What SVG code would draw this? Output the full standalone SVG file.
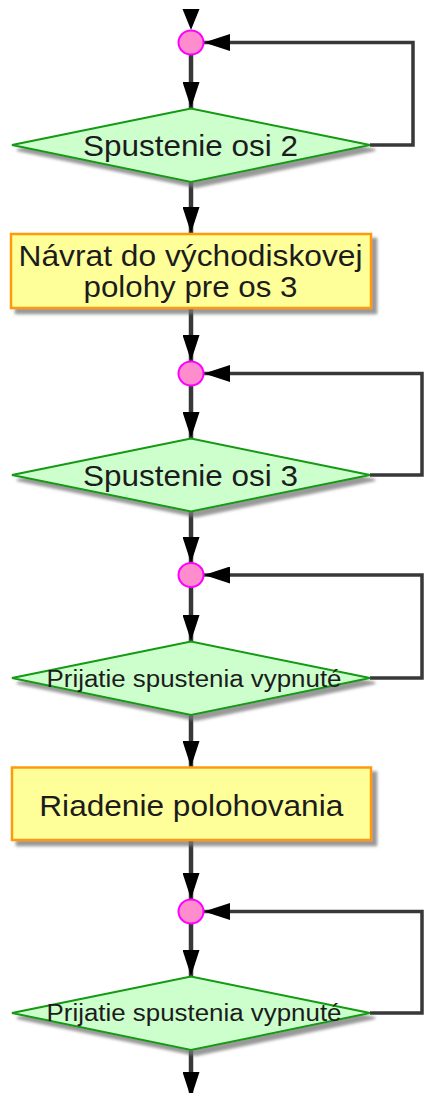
<svg xmlns="http://www.w3.org/2000/svg" width="430" height="1093" viewBox="0 0 430 1093">
  <style>
    .dec { fill: #ccffcc; stroke: #129a12; stroke-width: 2; filter: url(#shadow); }
    .act { fill: #ffff99; stroke: #ff9a0a; stroke-width: 2.5; filter: url(#shadow); }
    .mrg { fill: #ff8ccc; stroke: #ff00ff; stroke-width: 2; }
    .lbl { font-family: "Liberation Sans", Arial, sans-serif; fill: #1c1c1c; text-anchor: middle; }
    .big { font-size: 30px; }
    .small { font-size: 23px; }
    .flow { fill: none; stroke: #383838; stroke-width: 4.5; }
    .loop { fill: none; stroke: #383838; stroke-width: 3.5; }
  </style>
  <defs>
    <filter id="shadow" x="-10%" y="-20%" width="130%" height="150%">
      <feDropShadow dx="5" dy="5" stdDeviation="1.8" flood-color="#777" flood-opacity="0.75"/>
    </filter>
    <marker id="head" markerUnits="userSpaceOnUse" markerWidth="26" markerHeight="17" refX="26" refY="8.5" orient="auto">
      <path d="M0,0 L26,8.5 L0,17 Z" fill="#000"/>
    </marker>
  </defs>
  <rect width="430" height="1093" fill="#fff"/>

  <!-- connectors -->
  <g id="connectors">
    <polygon points="182.5,9 199.5,9 191,30" fill="#000"/>
    <line class="flow" x1="191" y1="54" x2="191" y2="108" marker-end="url(#head)"/>
    <polyline class="loop" points="370,145 413,145 413,42.5 204,42.5" marker-end="url(#head)"/>
    <line class="flow" x1="191" y1="182" x2="191" y2="233" marker-end="url(#head)"/>
    <line class="flow" x1="191" y1="309" x2="191" y2="361" marker-end="url(#head)"/>
    <line class="flow" x1="191" y1="385" x2="191" y2="438" marker-end="url(#head)"/>
    <polyline class="loop" points="370,475 422,475 422,373.5 204,373.5" marker-end="url(#head)"/>
    <line class="flow" x1="191" y1="512" x2="191" y2="563" marker-end="url(#head)"/>
    <line class="flow" x1="191" y1="587" x2="191" y2="641" marker-end="url(#head)"/>
    <polyline class="loop" points="370,678 422,678 422,575 204,575" marker-end="url(#head)"/>
    <line class="flow" x1="191" y1="715" x2="191" y2="767" marker-end="url(#head)"/>
    <line class="flow" x1="191" y1="841" x2="191" y2="899" marker-end="url(#head)"/>
    <line class="flow" x1="191" y1="923" x2="191" y2="976" marker-end="url(#head)"/>
    <polyline class="loop" points="370,1013 422,1013 422,911.5 204,911.5" marker-end="url(#head)"/>
    <line class="flow" x1="191" y1="1050" x2="191" y2="1098" marker-end="url(#head)"/>
  </g>

  <!-- merge point 1 and axis 2 start -->
  <g id="merge1"><ellipse class="mrg" cx="191" cy="42.5" rx="12.5" ry="12"/></g>
  <g id="start-axis2">
    <polygon class="dec" points="12,145 191,108.5 370,145 191,182"/>
    <text class="lbl big" x="190.5" y="156" textLength="215" lengthAdjust="spacingAndGlyphs">Spustenie osi 2</text>
  </g>

  <!-- homing of axis 3 -->
  <g id="home-axis3">
    <rect class="act" x="11" y="234" width="360" height="74"/>
    <text class="lbl big" x="190.5" y="265.5" textLength="344" lengthAdjust="spacingAndGlyphs">Návrat do východiskovej</text>
    <text class="lbl big" x="190.5" y="297" textLength="214" lengthAdjust="spacingAndGlyphs">polohy pre os 3</text>
  </g>

  <!-- merge point 2 and axis 3 start -->
  <g id="merge2"><ellipse class="mrg" cx="191" cy="373.5" rx="12.5" ry="12"/></g>
  <g id="start-axis3">
    <polygon class="dec" points="12,475 191,438.5 370,475 191,511.5"/>
    <text class="lbl big" x="190.5" y="486" textLength="215" lengthAdjust="spacingAndGlyphs">Spustenie osi 3</text>
  </g>

  <!-- merge point 3 and start acceptance off -->
  <g id="merge3"><ellipse class="mrg" cx="191" cy="575" rx="12.5" ry="12"/></g>
  <g id="accept-off1">
    <polygon class="dec" points="12,678 191,641.5 370,678 191,715"/>
    <text class="lbl small" x="194" y="686.5" textLength="295" lengthAdjust="spacingAndGlyphs">Prijatie spustenia vypnuté</text>
  </g>

  <!-- positioning control -->
  <g id="positioning">
    <rect class="act" x="12" y="767.5" width="359" height="72.5"/>
    <text class="lbl big" x="191.3" y="816" textLength="304" lengthAdjust="spacingAndGlyphs">Riadenie polohovania</text>
  </g>

  <!-- merge point 4 and start acceptance off -->
  <g id="merge4"><ellipse class="mrg" cx="191" cy="911.5" rx="12.5" ry="12"/></g>
  <g id="accept-off2">
    <polygon class="dec" points="12,1013 191,976.5 370,1013 191,1050"/>
    <text class="lbl small" x="194" y="1020.5" textLength="295" lengthAdjust="spacingAndGlyphs">Prijatie spustenia vypnuté</text>
  </g>
</svg>
